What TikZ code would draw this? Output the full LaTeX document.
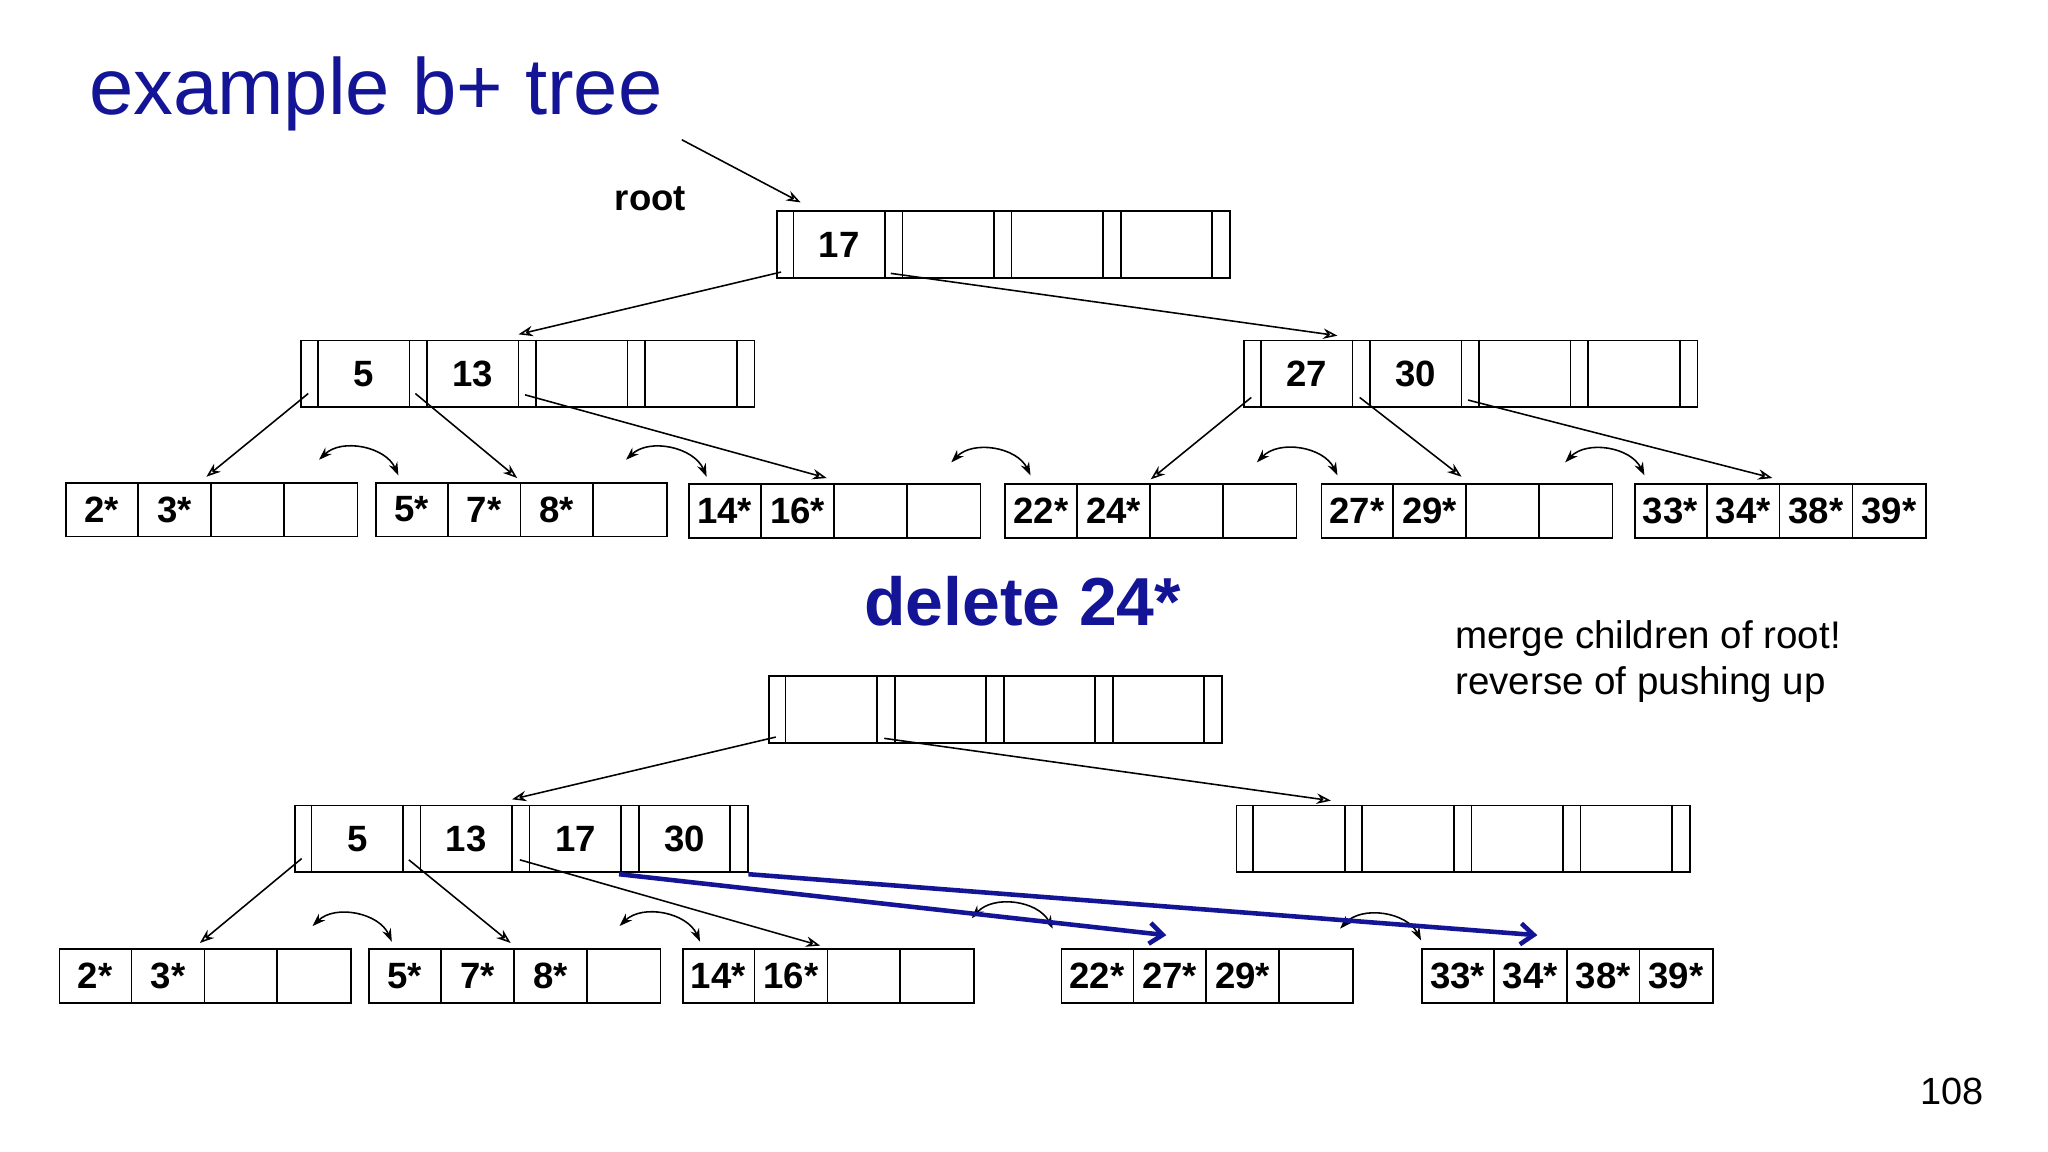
\documentclass[tikz,border=0pt]{standalone}
\usepackage{fontspec}
\setmainfont{Liberation Sans}
\usetikzlibrary{arrows.meta,calc}
\definecolor{tblue}{RGB}{20,20,150}
\newcommand\inode[7]{%
 \node[draw,line width=1.3pt,minimum width=347pt,minimum height=51pt,anchor=north west,inner sep=0pt] (#1) at (#2,#3) {};
 \foreach \o in {13.5,83.5,97,167,180.5,250.5,264,334}{\draw[line width=1.3pt] ($(#1.north west)+(\o,0)$) -- ($(#1.south west)+(\o,0)$);}
 \node[key] at ($(#1.west)+(48.5,0)$) {#4};
 \node[key] at ($(#1.west)+(132,0)$) {#5};
 \node[key] at ($(#1.west)+(215.5,0)$) {#6};
 \node[key] at ($(#1.west)+(299,0)$) {#7};}
\newcommand\leaf[7]{%
 \node[draw,line width=1.3pt,minimum width=223pt,minimum height=41pt,anchor=north west,inner sep=0pt] (#1) at (#2,#3) {};
 \foreach \o in {55.75,111.5,167.25}{\draw[line width=1.3pt] ($(#1.north west)+(\o,0)$) -- ($(#1.south west)+(\o,0)$);}
 \node[key] at ($(#1.west)+(27.9,0)$) {#4};
 \node[key] at ($(#1.west)+(83.6,0)$) {#5};
 \node[key] at ($(#1.west)+(139.4,0)$) {#6};
 \node[key] at ($(#1.west)+(195.1,0)$) {#7};}
\begin{document}
\begin{tikzpicture}[x=1pt,y=-1pt,
 key/.style={font=\fontsize{28}{30}\selectfont\bfseries,inner sep=0pt},
 ptr/.style={-{Stealth[length=11pt,width=8pt,open]},line width=1.2pt},
 sib/.style={{Stealth[length=10pt,width=7pt]}-{Stealth[length=10pt,width=7pt]},line width=1.2pt,bend left=55},
 blu/.style={-{Straight Barb[length=10pt,width=16pt]},line width=3.5pt,tblue}]
\useasboundingbox (0,0) rectangle (1568,882);
\fill[white] (0,0) rectangle (1568,882);
\node[anchor=base west,inner sep=0pt,text=tblue,font=\fontsize{61}{64}\selectfont] (title) at (68,88) {example b+ tree};
\node[anchor=base,inner sep=0pt,font=\fontsize{28}{30}\selectfont\bfseries] (rootlbl) at (498,161) {root};
\coordinate (rs) at (522,107);
% top tree
\inode{R}{594}{161}{17}{}{}{}
\inode{L}{230}{260}{5}{13}{}{}
\inode{Rt}{952}{260}{27}{30}{}{}
\leaf{a}{50}{369}{2*}{3*}{}{}
\leaf{b}{287}{369}{5*}{7*}{8*}{}
\leaf{c}{527}{370}{14*}{16*}{}{}
\leaf{d}{769}{370}{22*}{24*}{}{}
\leaf{e}{1011}{370}{27*}{29*}{}{}
\leaf{f}{1251}{370}{33*}{34*}{38*}{39*}
\draw[ptr] (rs) -- ($(R.north west)+(19,-6)$);
\draw[ptr] ($(R.south west)+(4,-5)$) -- ($(L.north west)+(167,-4)$);
\draw[ptr] ($(R.south west)+(88,-4)$) -- ($(Rt.north west)+(72,-3)$);
\draw[ptr] ($(L.south west)+(6,-11)$) -- ($(a.north west)+(108,-4)$);
\draw[ptr] ($(L.south west)+(88,-11)$) -- ($(b.north west)+(109,-3)$);
\draw[ptr] ($(L.south west)+(172,-10)$) -- ($(c.north west)+(106,-4)$);
\draw[ptr] ($(Rt.south west)+(6,-8)$) -- ($(d.north west)+(112,-3)$);
\draw[ptr] ($(Rt.south west)+(89,-8)$) -- ($(e.north west)+(108,-5)$);
\draw[ptr] ($(Rt.south west)+(172,-6)$) -- ($(f.north west)+(106,-4)$);
\draw[sib] ($(a.north east)+(-30,-17)$) to ($(b.north west)+(18,-5)$);
\draw[sib] ($(b.north east)+(-32,-17)$) to ($(c.north west)+(14,-5)$);
\draw[sib] ($(c.north east)+(-23,-16)$) to ($(d.north west)+(20,-6)$);
\draw[sib] ($(d.north east)+(-31,-16)$) to ($(e.north west)+(13,-6)$);
\draw[sib] ($(e.north east)+(-37,-16)$) to ($(f.north west)+(8,-6)$);
% heading
\node[anchor=base,inner sep=0pt,text=tblue,font=\fontsize{52}{56}\selectfont\bfseries] (del) at (783,479) {delete 24*};
\node[anchor=north west,inner sep=0pt,align=left,font=\fontsize{29.5}{35}\selectfont] (note) at (1114,475) {merge children of root!\\reverse of pushing up};
\node[anchor=base east,inner sep=0pt,font=\fontsize{29}{30}\selectfont] (pg) at (1519,846) {108};
% bottom tree
\inode{R2}{588}{517}{}{}{}{}
\inode{L2}{225}{616}{5}{13}{17}{30}
\inode{Rt2}{946}{616}{}{}{}{}
\leaf{a2}{45}{726}{2*}{3*}{}{}
\leaf{b2}{282}{726}{5*}{7*}{8*}{}
\leaf{c2}{522}{726}{14*}{16*}{}{}
\leaf{d2}{812}{726}{22*}{27*}{29*}{}
\leaf{f2}{1088}{726}{33*}{34*}{38*}{39*}
\draw[ptr] ($(R2.south west)+(6,-5)$) -- ($(L2.north west)+(167,-4)$);
\draw[ptr] ($(R2.south west)+(89,-4)$) -- ($(Rt2.north west)+(73,-3)$);
\draw[ptr] ($(L2.south west)+(6,-11)$) -- ($(a2.north west)+(108,-4)$);
\draw[ptr] ($(L2.south west)+(88,-10)$) -- ($(b2.north west)+(109,-4)$);
\draw[ptr] ($(L2.south west)+(173,-10)$) -- ($(c2.north west)+(106,-2)$);
\draw[sib] ($(a2.north east)+(-30,-17)$) to ($(b2.north west)+(18,-5)$);
\draw[sib] ($(b2.north east)+(-32,-17)$) to ($(c2.north west)+(14,-5)$);
\draw[sib] (744,703) to (806,711);
\draw[sib] (1026,711) to (1088,720);
\draw[blu] ($(L2.south west)+(249,1)$) -- ($(d2.north west)+(81,-10)$);
\draw[blu] ($(L2.south west)+(348,1)$) -- ($(f2.north west)+(89,-10)$);
\end{tikzpicture}
\end{document}
